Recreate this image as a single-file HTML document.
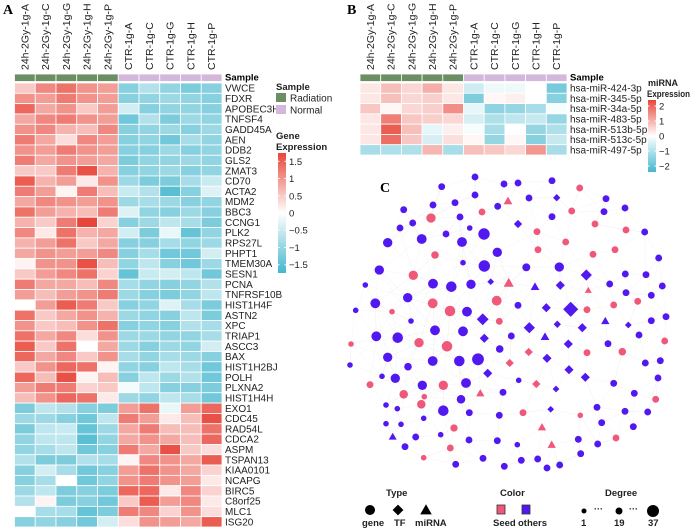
<!DOCTYPE html>
<html><head><meta charset="utf-8"><style>
body{margin:0;background:#fff;}
svg{display:block;font-family:"Liberation Sans",sans-serif;}
</style></head><body>
<svg id="fig" width="691" height="529" viewBox="0 0 691 529">
<text x="3" y="14" font-family="Liberation Serif" font-weight="bold" font-size="14">A</text>
<text x="347" y="14" font-family="Liberation Serif" font-weight="bold" font-size="14">B</text>
<text x="380" y="192" font-family="Liberation Serif" font-weight="bold" font-size="14">C</text>
<g id="edges"></g>
<g id="gA"></g>
<g id="gB"></g>
<g id="gC"></g>
<g id="legC"></g>
</svg>
<script>
const samples=["24h-2Gy-1g-A","24h-2Gy-1g-C","24h-2Gy-1g-G","24h-2Gy-1g-H","24h-2Gy-1g-P","CTR-1g-A","CTR-1g-C","CTR-1g-G","CTR-1g-H","CTR-1g-P"];
const sampleGroup=["Radiation","Radiation","Radiation","Radiation","Radiation","Normal","Normal","Normal","Normal","Normal"];
const genes=["VWCE","FDXR","APOBEC3H","TNFSF4","GADD45A","AEN","DDB2","GLS2","ZMAT3","CD70","ACTA2","MDM2","BBC3","CCNG1","PLK2","RPS27L","PHPT1","TMEM30A","SESN1","PCNA","TNFRSF10B","HIST1H4F","ASTN2","XPC","TRIAP1","ASCC3","BAX","HIST1H2BJ","POLH","PLXNA2","HIST1H4H","EXO1","CDC45","RAD54L","CDCA2","ASPM","TSPAN13","KIAA0101","NCAPG","BIRC5","C8orf25","MLC1","ISG20"];
const geneValues=[
[.5,1.1,1.3,1.0,.9,-1.1,-.7,-1,-1.2,-1.1],
[1.0,.9,1.2,1.0,.9,-1.1,-1,-.9,-1,-1.1],
[1.4,.8,1.0,.5,.9,-.4,-1.1,-1,-1,-1.1],
[.8,1.1,1.2,1.0,.9,-1.3,-.7,-1.2,-.9,-1],
[1.0,1.1,.7,.6,1.1,-1.1,-1,-.9,-1.1,-.9],
[1.2,.8,.3,1.1,.9,-1.1,-1,-1.3,-.8,-1],
[1.0,.9,1.2,1.0,.9,-1.1,-1.1,-.9,-1.1,-1],
[1.2,.8,1.0,.9,.8,-1.2,-1,-1,-.9,-1],
[.5,.5,1.2,1.6,.7,-1.1,-1,-.9,-1.1,-1],
[1.5,.7,.9,.2,1.0,-.9,-1.2,-1.2,-.8,-.5],
[1.2,.9,.1,1.2,.6,-.5,-.7,-1.5,-1.1,-.3],
[.8,1.1,1.0,.9,1.0,-.9,-.8,-.9,-1.1,-1],
[1.3,.9,.7,.6,1.2,-.3,-1,-1.1,-.9,-1.1],
[.7,.5,1.2,1.7,.4,-1.1,-.9,-.6,-.8,-1.2],
[1.1,.2,1.3,.7,.8,-.4,-1.2,-.2,-1.4,-1],
[.7,.9,1.3,.5,.8,-1.1,-1.1,-.8,-1,-.9],
[.8,1.0,.9,.9,1.1,-1.1,-.8,-1.3,-1.3,-.4],
[.1,1.0,1.0,1.6,.6,-1,-.6,-1.1,-1.3,-.9],
[.5,.9,1.1,1.3,.4,-1.4,-.5,-.4,-.6,-1.3],
[1.2,.8,.8,.6,1.1,-.8,-1,-1.1,-1,-.7],
[.9,.6,.9,1.0,1.2,-.9,-1.1,-1.2,-1,-.6],
[0,.9,1.5,1.2,.5,-1.1,-1,-.3,-.8,-1.2],
[1.3,.5,.8,1.0,.7,-.9,-1,-1.1,-.6,-1.2],
[1.0,.5,.6,1.0,1.3,-1.1,-1,-1.1,-.7,-.8],
[1.3,.8,1.1,.3,1.0,-.9,-.9,-1,-1,-.8],
[1.5,.5,1.3,0,.8,-.9,-1.1,-.9,-1,-.4],
[1.4,.8,1.1,.5,1.0,-.8,-1,-.8,-.9,-1.1],
[.5,1.0,1.4,1.3,.1,-1,-1.1,-.6,-.8,-1.3],
[1.4,.6,1.6,.1,.6,-1.1,-.6,-.9,-.7,-1.3],
[.9,1.2,1.2,.4,.5,-.1,-.6,-1.1,-1.1,-1.2],
[.6,1.0,1.4,1.3,.2,-.9,-1,-.6,-.8,-1.3],
[-1.2,-.6,-.7,-1.1,-1.2,.9,1.3,-.2,.9,1.4],
[-.9,-.9,-1.1,-1.3,-.6,1.2,.9,.2,.6,1.6],
[-1.2,-.6,-.5,-1.4,-.9,.8,1.2,.6,.6,1.3],
[-1.0,-.6,-.6,-1.5,-1.0,.8,1.0,.8,.6,1.4],
[-1,-.8,-.6,-1.3,-1.1,1.2,.8,1.6,.5,.3],
[-.7,-1.2,-1.2,-.7,-.8,.1,1.1,1.0,.8,1.5],
[-1.1,-.4,-.8,-1.3,-1.1,.9,1.3,1.0,.8,.4],
[-1.1,-.8,0,-1.3,-1.0,1.0,1.2,1.0,.9,.2],
[-.9,-.6,-1.2,-1.1,-1.2,1.4,1.4,.2,1.1,.4],
[-.7,.1,-1.2,-1.1,-1.3,.5,1.5,.9,1.1,.2],
[0,-.8,-.8,-1.4,-1.2,1.2,1.1,.4,1.0,.3],
[-1.1,-1.0,-1.1,-1.3,-.4,.3,1.0,.9,.8,1.5]];
const geneTicks=[1.5,1,0.5,0,-0.5,-1,-1.5];
const mirnas=["hsa-miR-424-3p","hsa-miR-345-5p","hsa-miR-34a-5p","hsa-miR-483-5p","hsa-miR-513b-5p","hsa-miR-513c-5p","hsa-miR-497-5p"];
const mirnaValues=[
[.3,.8,.5,1.0,.3,-.6,-.2,-.2,0,-1.7],
[.3,.8,.5,.6,.3,-1.6,.1,.2,0,-1.5],
[.7,.1,.5,.6,1.4,-.3,-1.4,-1.3,-1.1,-.1],
[.3,1.6,.7,.6,.5,-.5,-1,-.8,-.7,-1.3],
[.3,2.0,.8,-.3,.2,-.1,-1.1,0,-1.3,-1],
[.3,1.8,.7,-.5,.4,.1,-1.3,.1,-1.5,-.7],
[-1.1,-1,-1,.9,-1.1,.8,.7,.5,1.3,-1.1]];
const mirnaTicks=[2,1,0,-1,-2];
const nodeX=[441.7,504,518,552,579.7,475,475,508,529,556.7,606,403.7,433,455,497.7,482,571.7,604,625,431,460,552,412.7,469.7,518,595,400,537,626,644.7,446,484,421.7,387.7,462,565.7,538,615,497.3,593,435,658.7,463,484.3,526.3,559.3,379.3,413.3,586.3,625.3,646,365.3,433,451.3,471,490.7,508.7,535,560.3,588.3,609.7,662.3,626,651.3,375.3,407.7,432.7,496.7,637.7,355.7,392,450,467,518,546.3,570.7,587,613.7,666,411,482.7,499.3,529.3,557.3,582.3,605.3,628.3,651.3,376.3,397.7,435,463,545,484.3,511.3,419,447,351,639,568.3,608,664.7,499.7,528.7,587,622.3,387.7,432.7,459.3,478,408,509.7,547,569,645.3,660.3,350,382,395.3,487.7,585.3,658,370,422.3,443.3,466,518.7,536.3,613.7,556,403.7,424.3,480.3,503,634.3,461,655.7,386,421.3,397.3,443.3,469.3,499.3,523,550.7,597,625,647.7,580.3,423.7,386,401,601.7,633.3,454,542,392.7,415.7,440.7,469,497.3,578.3,616,405,450.3,517.3,551.7,597.7,580.7,423.7,483,521.3,537.7,455.7,504.3,547,559.7];
const nodeY=[186.7,184,183,180.7,188,177,195,201,198,197.7,198.7,209.7,205,202.7,206.3,212,211,211.7,208,218,217,216.7,223,228,224,224,228,231.7,230,232,234,234,239,242.7,242,242,249.7,249.7,252.3,254.3,255,258,262.7,266,267.3,267,270,275.3,275,274,274.7,285,283.7,286.7,284.3,281.7,283,286.7,285.3,290.3,284,286,292.7,295.3,303.3,297.7,303.3,300.7,301.3,310.3,311.7,311,311.7,305.3,307.7,309.3,309.7,305,316.7,321,319.3,321.3,327.7,324.3,327.7,321,325,320.7,336.3,337.7,330.3,331.3,336.7,338.3,336,342.7,346.3,344,335,344,343.7,341,349,352,352.7,351.7,357.3,361,361,359.3,366.7,363,358.3,369.7,363,360.7,365,376.3,378.3,373.3,377.3,378,384.7,385.3,385.3,383,380.3,384,383.3,389,394.3,396.7,393.3,392.3,393.3,399.3,399.3,405,404.3,408.7,410.7,412.7,415.3,412.7,409.3,407.3,411.3,412,415.3,418.3,423.7,424.3,422.7,426.7,428,427.3,436.7,437,434.7,440,440.7,439.3,438,446.7,448,444.7,444.7,444,453.7,457.7,458.3,460.3,459,464.3,466.3,468,465];
const nodeType=("gggggggtgd"+"gggggggggg"+"ggggdggggg"+"gggggggggg"+"ggggggggdg"+"gggggdttdt"+"gggggggggg"+"ggggddgggg"+"dgdddtdggg"+"ggtdgggggd"+"gggdgggggg"+"gdddgggggd"+"dggggggdgd"+"ggtggggggg"+"ggggdggggg"+"gggggttggg"+"ggggggtggg"+"ggggggg").split("");
const nodeColor=("oooosoosoo"+"ooooossoos"+"ooooososso"+"ooooosssos"+"soooooosoo"+"oooooosoos"+"oooooossso"+"ssoooossoo"+"osoooooooo"+"ooooosssoo"+"ososssoooo"+"osoooooooo"+"oososoosoo"+"sssooososo"+"ooosooooso"+"oooossoooo"+"oosososoos"+"ooooooo").split("");
const nodeDegree=[7,7,7,7,7,7,7,9,7,5, 7,7,7,7,7,7,7,7,7,15, 7,7,7,4,7,7,7,7,7,7, 7,24,17,15,17,7,7,7,15,7, 9,7,4,24,10,15,15,15,15,7, 7,4,17,20,15,4,13,9,9,5, 7,7,7,7,17,15,17,17,7,4, 4,20,17,7,9,30,7,7,7,4, 17,7,15,5,9,8,4,7,17,20, 17,17,9,9,7,15,20,4,7,9, 7,7,9,7,7,9,15,17,20,26, 9,7,9,9,7,7,4,4,15,9, 9,7,7,15,15,17,4,7,7,4, 12,4,8,7,7,12,7,4,12,4, 20,7,7,7,4,7,7,7,4,4, 4,4,7,7,8,8,7,7,4,7, 7,7,7,7,7,4,8,7,7,4, 7,7,7,7,7,7,7];

const NS="http://www.w3.org/2000/svg";
function mk(tag,attrs,parent){const e=document.createElementNS(NS,tag);for(const k in attrs)e.setAttribute(k,attrs[k]);parent.appendChild(e);return e;}
function mix(a,b,t){return a.map((v,i)=>Math.round(v+(b[i]-v)*t));}
const RED=[232,70,58],BLUE=[69,183,206],WHITE=[255,255,255];
function colorOf(v,max){const t=Math.min(1,Math.abs(v)/max);const c=v>=0?mix(WHITE,RED,t):mix(WHITE,BLUE,t);return `rgb(${c[0]},${c[1]},${c[2]})`;}

function heatmap(g,x0,x1,y0,rowH,rows,vals,labels,max,nameP){
  const cw=(x1-x0)/samples.length;
  const xs=i=>x0+i*cw;
  samples.forEach((s,i)=>{
    const t=mk('text',{x:0,y:0,transform:`translate(${xs(i)+cw/2+3.5},70) rotate(-90)`,'font-size':'10.5',fill:'#222'},g);
    t.textContent=s;
    
    
    const r=mk('rect',{x:xs(i),y:74,width:cw,height:7.5,fill:sampleGroup[i]==="Radiation"?"#6b8f62":"#d4b8dc",stroke:"#fff","stroke-width":0.8},g);
    
    
  });
  const sl=mk('text',{x:x1+3,y:80.5,'font-size':'9.5','font-weight':'bold'},g);sl.textContent="Sample";
  
  
  vals.forEach((row,r)=>{
    row.forEach((v,i)=>{
      const c=mk('rect',{x:xs(i),y:y0+r*rowH,width:cw,height:rowH,fill:colorOf(v,max),stroke:"#fff","stroke-width":0.8},g);
      
      
    });
    const t=mk('text',{x:x1+3,y:y0+r*rowH+rowH/2+3.5,'font-size':'10',fill:'#222'},g);
    t.textContent=labels[r];
    
    
  });
}
const gA=document.getElementById('gA');
heatmap(gA,14.5,222,83,(527-83)/genes.length,genes.length,geneValues,genes,1.7,'gene');
const gB=document.getElementById('gB');
heatmap(gB,360,567,83,(155-83)/mirnas.length,mirnas.length,mirnaValues,mirnas,2.3,'mirna');

function txt(g,x,y,s,size,bold,name){const t=mk('text',{x,y,'font-size':size,'font-weight':bold?'bold':'normal',fill:'#222'},g);t.textContent=s;return t;}
txt(gA,276,90,"Sample",9.5,true,"sample-legend-title");
let sw=mk('rect',{x:276,y:93,width:10,height:9,fill:"#6b8f62"},gA);
sw=mk('rect',{x:276,y:105,width:10,height:9,fill:"#d4b8dc"},gA);
txt(gA,290,101.5,"Radiation",10,false,"radiation-legend-label");
txt(gA,290,113.5,"Normal",10,false,"normal-legend-label");
txt(gA,276,139,"Gene",9.5,true,"gene-expression-title");
txt(gA,276,150,"Expression",9.5,true,"gene-expression-title-2");
function colorbar(g,x,y0,y1,max,ticks,id,name){
  const defs=mk('defs',{},g);const lg=mk('linearGradient',{id,x1:0,y1:0,x2:0,y2:1},defs);
  for(let i=0;i<=20;i++){const v=max-(2*max)*i/20;mk('stop',{offset:(i/20),'stop-color':colorOf(v,max)},lg);}
  const r=mk('rect',{x,y:y0,width:8,height:y1-y0,fill:`url(#${id})`},g);
  
  const ys=v=>y0+(max-v)/(2*max)*(y1-y0);
  ticks.forEach(v=>{mk('line',{x1:x,x2:x+1.5,y1:ys(v),y2:ys(v),stroke:'#fff'},g);mk('line',{x1:x+6.5,x2:x+8,y1:ys(v),y2:ys(v),stroke:'#fff'},g);
    txt(g,x+11,ys(v)+3.5,v<0?"\u2212"+Math.abs(v):String(v),9.5,false,name+'-tick');});
}
colorbar(gA,278,153,273,1.74,geneTicks,'gradA','gene-colorbar');
txt(gB,648,86,"miRNA",9,true,"mirna-expression-title");
const ex=txt(gB,647,97,"Expression",9,true,"mirna-expression-title-2");ex.setAttribute('textLength','43');ex.setAttribute('lengthAdjust','spacingAndGlyphs');
colorbar(gB,648,100,172,2.4,mirnaTicks,'gradB','mirna-colorbar');

const gC=document.getElementById('gC'),edges=document.getElementById('edges');
const SEED="#f0587a",OTHER="#5218f0";
const rad=d=>0.8+Math.sqrt(d)*1.0;
function shape(g,x,y,t,c,r){
  if(t==='g')return mk('circle',{cx:x,cy:y,r,fill:c},g);
  if(t==='d'){const s=r*1.2;return mk('polygon',{points:`${x},${y-s} ${x+s},${y} ${x},${y+s} ${x-s},${y}`,fill:c},g);}
  const s=r*1.15;return mk('polygon',{points:`${x},${y-s} ${x+s},${y+s*0.75} ${x-s},${y+s*0.75}`,fill:c},g);
}
for(let i=0;i<nodeX.length;i++){
  const ds=nodeX.map((x,j)=>[Math.hypot(x-nodeX[i],nodeY[j]-nodeY[i]),j]).filter(a=>a[1]!==i).sort((a,b)=>a[0]-b[0]);
  const k=nodeDegree[i]>=12?7:3;
  for(let m=0;m<k;m++){const j=ds[m*2][1];const l=mk('line',{x1:nodeX[i],y1:nodeY[i],x2:nodeX[j],y2:nodeY[j],stroke:'#e6e6e6','stroke-width':0.4,opacity:0.5},edges);
    }
}
for(let i=0;i<nodeX.length;i++){
  const n=shape(gC,nodeX[i],nodeY[i],nodeType[i]||'g',nodeColor[i]==='s'?SEED:OTHER,rad(nodeDegree[i]));
  
  
}
const L=document.getElementById('legC');
txt(L,386,496,"Type",9.5,true,"type-legend-title");
txt(L,500,496,"Color",9.5,true,"color-legend-title");
txt(L,605,496,"Degree",9.5,true,"degree-legend-title");
shape(L,370,510,'g','#000',5);shape(L,398,510,'d','#000',4.5);shape(L,426,510,'t','#000',5);
txt(L,362,526,"gene",9.5,true,"gene-legend-label");
txt(L,394,526,"TF",9.5,true,"tf-legend-label");
txt(L,415,526,"miRNA",9.5,true,"mirna-legend-label");
sw=mk('rect',{x:497,y:505,width:8,height:9,fill:SEED,stroke:'#333','stroke-width':0.8},L);
sw=mk('rect',{x:522,y:505,width:8,height:9,fill:OTHER,stroke:'#333','stroke-width':0.8},L);
txt(L,493,526,"Seed",9.5,true,"seed-legend-label");
txt(L,518,526,"others",9.5,true,"others-legend-label");
mk('circle',{cx:584,cy:511,r:2.5,fill:'#000'},L);mk('circle',{cx:619,cy:511,r:3.5,fill:'#000'},L);mk('circle',{cx:653,cy:511,r:6,fill:'#000'},L);
txt(L,594,512,"···",9,true,"degree-ellipsis");txt(L,629,512,"···",9,true,"degree-ellipsis");
txt(L,581,526,"1",9.5,true,"degree-1-label");txt(L,614,526,"19",9.5,true,"degree-19-label");txt(L,648,526,"37",9.5,true,"degree-37-label");
</script>
</body></html>
